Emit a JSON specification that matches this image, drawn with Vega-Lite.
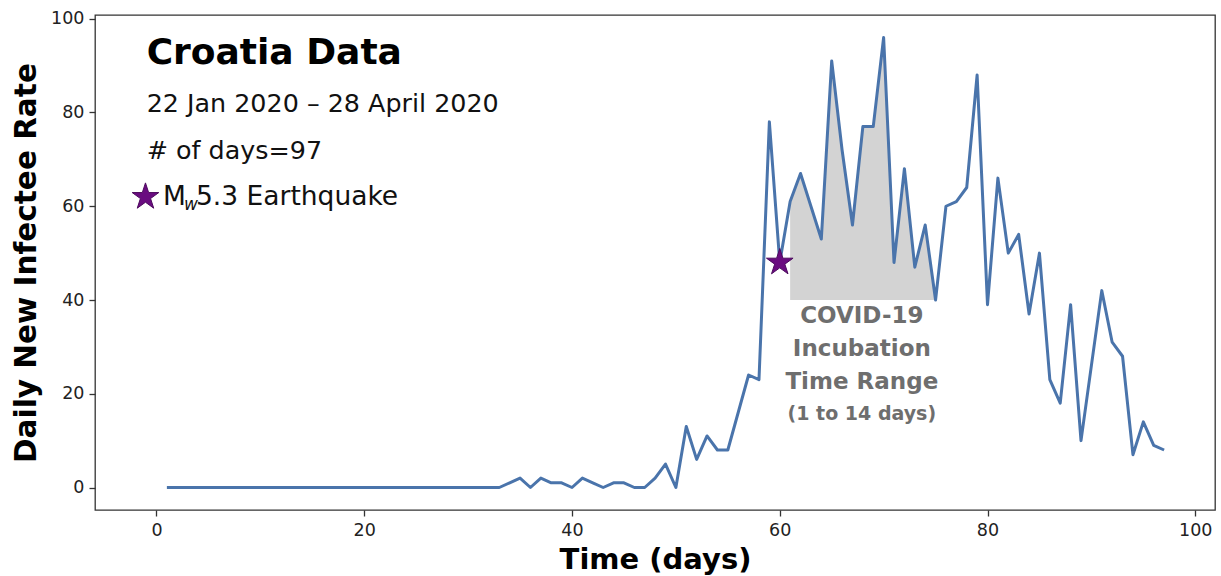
{
  "$schema": "https://vega.github.io/schema/vega-lite/v6.json",
  "width": 1120,
  "height": 495,
  "autosize": {"type": "none"},
  "padding": {"left": 95, "top": 15, "right": 6, "bottom": 66},
  "background": "white",
  "config": {
    "font": "DejaVu Sans",
    "view": {"stroke": "#333333", "strokeWidth": 1.3},
    "axis": {
      "grid": false,
      "domain": false,
      "tickColor": "#333333",
      "tickSize": 6,
      "tickWidth": 1.3,
      "labelFont": "DejaVu Sans",
      "labelFontSize": 17.5,
      "labelColor": "#222222",
      "titleFont": "DejaVu Sans",
      "titleFontWeight": "bold",
      "titleColor": "#000000"
    }
  },
  "datasets": {
    "series": [
      {"day": 1, "rate": 0}, {"day": 2, "rate": 0}, {"day": 3, "rate": 0}, {"day": 4, "rate": 0},
      {"day": 5, "rate": 0}, {"day": 6, "rate": 0}, {"day": 7, "rate": 0}, {"day": 8, "rate": 0},
      {"day": 9, "rate": 0}, {"day": 10, "rate": 0}, {"day": 11, "rate": 0}, {"day": 12, "rate": 0},
      {"day": 13, "rate": 0}, {"day": 14, "rate": 0}, {"day": 15, "rate": 0}, {"day": 16, "rate": 0},
      {"day": 17, "rate": 0}, {"day": 18, "rate": 0}, {"day": 19, "rate": 0}, {"day": 20, "rate": 0},
      {"day": 21, "rate": 0}, {"day": 22, "rate": 0}, {"day": 23, "rate": 0}, {"day": 24, "rate": 0},
      {"day": 25, "rate": 0}, {"day": 26, "rate": 0}, {"day": 27, "rate": 0}, {"day": 28, "rate": 0},
      {"day": 29, "rate": 0}, {"day": 30, "rate": 0}, {"day": 31, "rate": 0}, {"day": 32, "rate": 0},
      {"day": 33, "rate": 0}, {"day": 34, "rate": 1}, {"day": 35, "rate": 2}, {"day": 36, "rate": 0},
      {"day": 37, "rate": 2}, {"day": 38, "rate": 1}, {"day": 39, "rate": 1}, {"day": 40, "rate": 0},
      {"day": 41, "rate": 2}, {"day": 42, "rate": 1}, {"day": 43, "rate": 0}, {"day": 44, "rate": 1},
      {"day": 45, "rate": 1}, {"day": 46, "rate": 0}, {"day": 47, "rate": 0}, {"day": 48, "rate": 2},
      {"day": 49, "rate": 5}, {"day": 50, "rate": 0}, {"day": 51, "rate": 13}, {"day": 52, "rate": 6},
      {"day": 53, "rate": 11}, {"day": 54, "rate": 8}, {"day": 55, "rate": 8}, {"day": 56, "rate": 16},
      {"day": 57, "rate": 24}, {"day": 58, "rate": 23}, {"day": 59, "rate": 78}, {"day": 60, "rate": 48},
      {"day": 61, "rate": 61}, {"day": 62, "rate": 67}, {"day": 63, "rate": 60}, {"day": 64, "rate": 53},
      {"day": 65, "rate": 91}, {"day": 66, "rate": 72}, {"day": 67, "rate": 56}, {"day": 68, "rate": 77},
      {"day": 69, "rate": 77}, {"day": 70, "rate": 96}, {"day": 71, "rate": 48}, {"day": 72, "rate": 68},
      {"day": 73, "rate": 47}, {"day": 74, "rate": 56}, {"day": 75, "rate": 40}, {"day": 76, "rate": 60},
      {"day": 77, "rate": 61}, {"day": 78, "rate": 64}, {"day": 79, "rate": 88}, {"day": 80, "rate": 39},
      {"day": 81, "rate": 66}, {"day": 82, "rate": 50}, {"day": 83, "rate": 54}, {"day": 84, "rate": 37},
      {"day": 85, "rate": 50}, {"day": 86, "rate": 23}, {"day": 87, "rate": 18}, {"day": 88, "rate": 39},
      {"day": 89, "rate": 10}, {"day": 90, "rate": 26}, {"day": 91, "rate": 42}, {"day": 92, "rate": 31},
      {"day": 93, "rate": 28}, {"day": 94, "rate": 7}, {"day": 95, "rate": 14}, {"day": 96, "rate": 9},
      {"day": 97, "rate": 8}
    ],
    "stars": [
      {"day": 60, "rate": 48},
      {"day": -1.06, "rate": 62}
    ]
  },
  "layer": [
    {
      "data": {"name": "series"},
      "transform": [{"filter": "datum.day >= 61 && datum.day <= 75"}],
      "mark": {"type": "area", "color": "#d3d3d3", "opacity": 1},
      "encoding": {
        "x": {"field": "day", "type": "quantitative",
              "scale": {"domain": [-5.92, 101.9], "nice": false, "zero": false},
              "axis": {"values": [0, 20, 40, 60, 80, 100], "title": "Time (days)", "titleFontSize": 29, "titlePadding": 7, "labelPadding": 5}},
        "y": {"field": "rate", "type": "quantitative",
              "scale": {"domain": [-4.8, 100.8], "nice": false, "zero": false},
              "axis": {"values": [0, 20, 40, 60, 80, 100], "title": "Daily New Infectee Rate", "titleFontSize": 29.5, "titlePadding": 9, "labelPadding": 5}},
        "y2": {"datum": 40}
      }
    },
    {
      "data": {"name": "series"},
      "mark": {"type": "line", "color": "#4a74ab", "strokeWidth": 3, "strokeJoin": "round"},
      "encoding": {
        "x": {"field": "day", "type": "quantitative"},
        "y": {"field": "rate", "type": "quantitative"}
      }
    },
    {
      "data": {"name": "stars"},
      "mark": {"type": "point", "filled": true, "color": "#6a0c80", "stroke": "#4d0a5e", "strokeWidth": 1, "opacity": 1, "size": 784,
               "shape": "M0,-1L0.2245,-0.309L0.951,-0.309L0.3633,0.118L0.588,0.809L0,0.382L-0.588,0.809L-0.3633,0.118L-0.951,-0.309L-0.2245,-0.309Z"},
      "encoding": {
        "x": {"field": "day", "type": "quantitative"},
        "y": {"field": "rate", "type": "quantitative"}
      }
    },
    {
      "data": {"values": [{"day": -0.95, "rate": 92.6, "label": "Croatia Data"}]},
      "mark": {"type": "text", "align": "left", "baseline": "middle", "fontSize": 36, "fontWeight": "bold", "color": "#000000", "font": "DejaVu Sans"},
      "encoding": {
        "x": {"field": "day", "type": "quantitative"},
        "y": {"field": "rate", "type": "quantitative"},
        "text": {"field": "label"}
      }
    },
    {
      "data": {"values": [
        {"day": -0.95, "rate": 81.8, "label": "22 Jan 2020 – 28 April 2020"},
        {"day": -0.95, "rate": 71.8, "label": "# of days=97"}
      ]},
      "mark": {"type": "text", "align": "left", "baseline": "middle", "fontSize": 25.4, "color": "#111111", "font": "DejaVu Sans"},
      "encoding": {
        "x": {"field": "day", "type": "quantitative"},
        "y": {"field": "rate", "type": "quantitative"},
        "text": {"field": "label"}
      }
    },
    {
      "data": {"values": [
        {"day": 0.62, "rate": 61.9, "label": "M"},
        {"day": 3.8, "rate": 61.9, "label": "5.3 Earthquake"}
      ]},
      "mark": {"type": "text", "align": "left", "baseline": "middle", "fontSize": 26.5, "color": "#111111", "font": "DejaVu Sans"},
      "encoding": {
        "x": {"field": "day", "type": "quantitative"},
        "y": {"field": "rate", "type": "quantitative"},
        "text": {"field": "label"}
      }
    },
    {
      "data": {"values": [{"day": 2.65, "rate": 60.3, "label": "w"}]},
      "mark": {"type": "text", "align": "left", "baseline": "middle", "fontSize": 17, "fontStyle": "italic", "color": "#111111", "font": "DejaVu Sans"},
      "encoding": {
        "x": {"field": "day", "type": "quantitative"},
        "y": {"field": "rate", "type": "quantitative"},
        "text": {"field": "label"}
      }
    },
    {
      "data": {"values": [
        {"day": 67.9, "rate": 36.6, "label": "COVID-19"},
        {"day": 67.9, "rate": 29.55, "label": "Incubation"},
        {"day": 67.9, "rate": 22.5, "label": "Time Range"}
      ]},
      "mark": {"type": "text", "align": "center", "baseline": "middle", "fontSize": 23, "fontWeight": "bold", "color": "#6e6e6e", "font": "DejaVu Sans"},
      "encoding": {
        "x": {"field": "day", "type": "quantitative"},
        "y": {"field": "rate", "type": "quantitative"},
        "text": {"field": "label"}
      }
    },
    {
      "data": {"values": [{"day": 67.9, "rate": 15.7, "label": "(1 to 14 days)"}]},
      "mark": {"type": "text", "align": "center", "baseline": "middle", "fontSize": 19, "fontWeight": "bold", "color": "#6e6e6e", "font": "DejaVu Sans"},
      "encoding": {
        "x": {"field": "day", "type": "quantitative"},
        "y": {"field": "rate", "type": "quantitative"},
        "text": {"field": "label"}
      }
    }
  ]
}
